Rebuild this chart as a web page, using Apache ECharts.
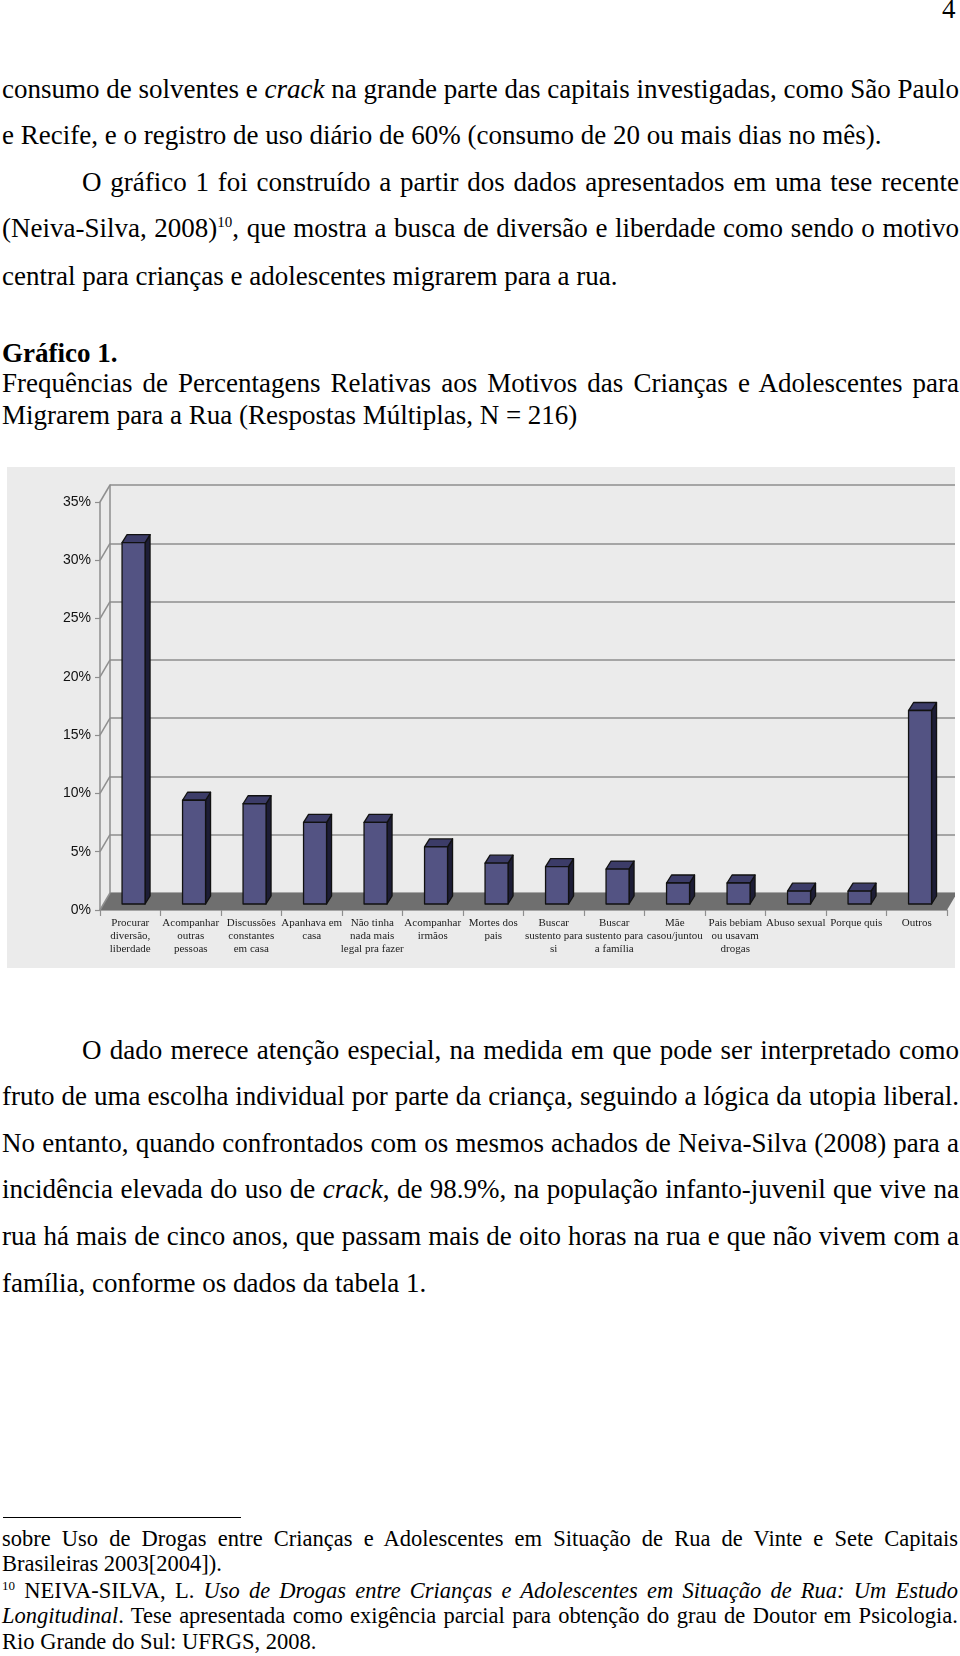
<!DOCTYPE html>
<html><head><meta charset="utf-8">
<script src="https://cdn.jsdelivr.net/npm/echarts@6/dist/echarts.min.js"></script>
<style>
body{margin:0;background:#fff;width:960px;height:1656px;position:relative;overflow:hidden;font-family:"Liberation Serif","Times New Roman",serif;color:#000}
.l{position:absolute;white-space:nowrap;font-size:27px;line-height:30px}
.f{font-size:22.5px;line-height:25px}
sup{font-size:15px;line-height:0;vertical-align:0;position:relative;top:-10px}
.f sup{font-size:13px;top:-8px}
#rule{position:absolute;left:3px;top:1517px;width:238px;height:1px;background:#000}
#chart{position:absolute;left:7px;top:467px;width:948px;height:501px;background:#ebebeb}
</style></head><body>
<div class="l" style="left:942px;top:-6px">4</div>
<div class="l j" data-w="957" style="left:2px;top:74px">consumo de solventes e <i>crack</i> na grande parte das capitais investigadas, como São Paulo</div>
<div class="l" style="left:2px;top:120px">e Recife, e o registro de uso diário de 60% (consumo de 20 ou mais dias no mês).</div>
<div class="l j" data-w="877" style="left:82px;top:167px">O gráfico 1 foi construído a partir dos dados apresentados em uma tese recente</div>
<div class="l j" data-w="957" style="left:2px;top:213px">(Neiva-Silva, 2008)<sup>10</sup>, que mostra a busca de diversão e liberdade como sendo o motivo</div>
<div class="l" style="left:2px;top:261px">central para crianças e adolescentes migrarem para a rua.</div>
<div class="l" style="left:2px;top:338px"><b>Gráfico 1.</b></div>
<div class="l j" data-w="957" style="left:2px;top:368px">Frequências de Percentagens Relativas aos Motivos das Crianças e Adolescentes para</div>
<div class="l" style="left:2px;top:400px">Migrarem para a Rua (Respostas Múltiplas, N = 216)</div>
<div id="chart"></div>
<div class="l j" data-w="877" style="left:82px;top:1035px">O dado merece atenção especial, na medida em que pode ser interpretado como</div>
<div class="l j" data-w="957" style="left:2px;top:1081px">fruto de uma escolha individual por parte da criança, seguindo a lógica da utopia liberal.</div>
<div class="l j" data-w="957" style="left:2px;top:1128px">No entanto, quando confrontados com os mesmos achados de Neiva-Silva (2008) para a</div>
<div class="l j" data-w="957" style="left:2px;top:1174px">incidência elevada do uso de <i>crack</i>, de 98.9%, na população infanto-juvenil que vive na</div>
<div class="l j" data-w="957" style="left:2px;top:1221px">rua há mais de cinco anos, que passam mais de oito horas na rua e que não vivem com a</div>
<div class="l" style="left:2px;top:1268px">família, conforme os dados da tabela 1.</div>
<div id="rule"></div>
<div class="l f j" data-w="956" style="left:2px;top:1526px">sobre Uso de Drogas entre Crianças e Adolescentes em Situação de Rua de Vinte e Sete Capitais</div>
<div class="l f" style="left:2px;top:1551px">Brasileiras 2003[2004]).</div>
<div class="l f j" data-w="956" style="left:2px;top:1578px"><sup>10</sup> NEIVA-SILVA, L. <i>Uso de Drogas entre Crianças e Adolescentes em Situação de Rua: Um Estudo</i></div>
<div class="l f j" data-w="956" style="left:2px;top:1603px"><i>Longitudinal</i>. Tese apresentada como exigência parcial para obtenção do grau de Doutor em Psicologia.</div>
<div class="l f" style="left:2px;top:1629px">Rio Grande do Sul: UFRGS, 2008.</div>
<script>
// ---- data ----
const categories = [
  'Procurar\ndiversão,\nliberdade',
  'Acompanhar\noutras\npessoas',
  'Discussões\nconstantes\nem casa',
  'Apanhava em\ncasa',
  'Não tinha\nnada mais\nlegal pra fazer',
  'Acompanhar\nirmãos',
  'Mortes dos\npais',
  'Buscar\nsustento para\nsi',
  'Buscar\nsustento para\na família',
  'Mãe\ncasou/juntou',
  'Pais bebiam\nou usavam\ndrogas',
  'Abuso sexual',
  'Porque quis',
  'Outros'
];
const values = [31.0, 8.9, 8.6, 7.0, 7.0, 4.9, 3.5, 3.2, 3.0, 1.8, 1.8, 1.1, 1.1, 16.6];
const yTicks = [0, 5, 10, 15, 20, 25, 30, 35];

// justify lines
function justify(){
  document.querySelectorAll('.j').forEach(el=>{
    el.style.wordSpacing='0px';
    const nat = el.getBoundingClientRect().width;
    const n = (el.textContent.match(/ /g)||[]).length;
    const W = parseFloat(el.dataset.w);
    if(n>0) el.style.wordSpacing = ((W-nat)/n)+'px';
  });
}
justify();
if(document.fonts && document.fonts.ready) document.fonts.ready.then(justify);

const WX = 10, WY = 17; // wall depth
const gridCol = '#8e8e8e';
const chart = echarts.init(document.getElementById('chart'), null, {renderer:'canvas'});
chart.setOption({
  animation:false,
  backgroundColor:'#ebebeb',
  grid:[
    {left:93, right:8, top:35, bottom:58},
    {left:93+WX, right:8-WX, top:35-WY, bottom:58+WY}
  ],
  xAxis:[
    {type:'category', gridIndex:0, data:categories,
     axisLine:{show:true, lineStyle:{color:gridCol, width:1.5}},
     axisTick:{show:true, interval:0, length:6, lineStyle:{color:gridCol, width:1.2}},
     axisLabel:{interval:0, margin:7, fontFamily:'Liberation Serif', fontSize:11, lineHeight:13, color:'#222'},
     splitLine:{show:false}},
    {type:'category', gridIndex:1, data:categories, show:false}
  ],
  yAxis:[
    {type:'value', gridIndex:0, min:0, max:35, interval:5,
     axisLine:{show:true, lineStyle:{color:gridCol, width:1.5}},
     axisTick:{show:true, length:5, lineStyle:{color:gridCol, width:1.2}},
     axisLabel:{formatter:'{value}%', margin:9, fontFamily:'Liberation Sans', fontSize:14, color:'#111'},
     splitLine:{show:false}},
    {type:'value', gridIndex:1, min:0, max:35, interval:5,
     axisLine:{show:true, lineStyle:{color:gridCol, width:1.5}},
     axisTick:{show:false}, axisLabel:{show:false},
     splitLine:{show:true, lineStyle:{color:gridCol, width:1.5}}}
  ],
  series:[
    { // floor
      type:'custom', xAxisIndex:0, yAxisIndex:0, z:1, silent:true,
      data:[[0,0]],
      renderItem:function(params, api){
        const band = api.size([1,0])[0];
        const a = api.coord([0,0]), b = api.coord([categories.length-1,0]);
        const L = a[0]-band/2, R = b[0]+band/2, y = a[1];
        return {type:'polygon', shape:{points:[[L,y],[R,y],[R+WX,y-WY],[L+WX,y-WY]]}, style:{fill:'#6f6f6f'}};
      }
    },
    { // side wall diagonals
      type:'custom', xAxisIndex:0, yAxisIndex:0, z:1, silent:true,
      data:yTicks.map(t=>[0,t]),
      renderItem:function(params, api){
        const band = api.size([1,0])[0];
        const p = api.coord([0, api.value(1)]);
        const L = p[0]-band/2;
        return {type:'line', shape:{x1:L, y1:p[1], x2:L+WX, y2:p[1]-WY}, style:{stroke:gridCol, lineWidth:1.5}};
      }
    },
    { // 3D bars
      type:'custom', xAxisIndex:0, yAxisIndex:0, z:3, silent:true,
      data:values.map((v,i)=>[i,v]),
      renderItem:function(params, api){
        const i = api.value(0), v = api.value(1);
        const base = api.coord([i,0]), top = api.coord([i,v]);
        const band = api.size([1,0])[0];
        const w = band*0.38, ox = 3.3, oy = 6, dx = 5, dy = 8;
        const x0 = base[0]-w/2+ox, x1 = x0+w;
        const yb = base[1]-oy, yt = top[1]-oy;
        const st = {stroke:'#111', lineWidth:1.3, lineJoin:'round'};
        return {type:'group', children:[
          {type:'polygon', shape:{points:[[x1,yt],[x1+dx,yt-dy],[x1+dx,yb-dy],[x1,yb]]}, style:Object.assign({fill:'#1d1d36'}, st)},
          {type:'polygon', shape:{points:[[x0,yt],[x1,yt],[x1+dx,yt-dy],[x0+dx,yt-dy]]}, style:Object.assign({fill:'#3c3c68'}, st)},
          {type:'rect', shape:{x:x0, y:yt, width:w, height:yb-yt}, style:Object.assign({fill:'#535383'}, st)}
        ]};
      }
    }
  ]
});
</script>
</body></html>
